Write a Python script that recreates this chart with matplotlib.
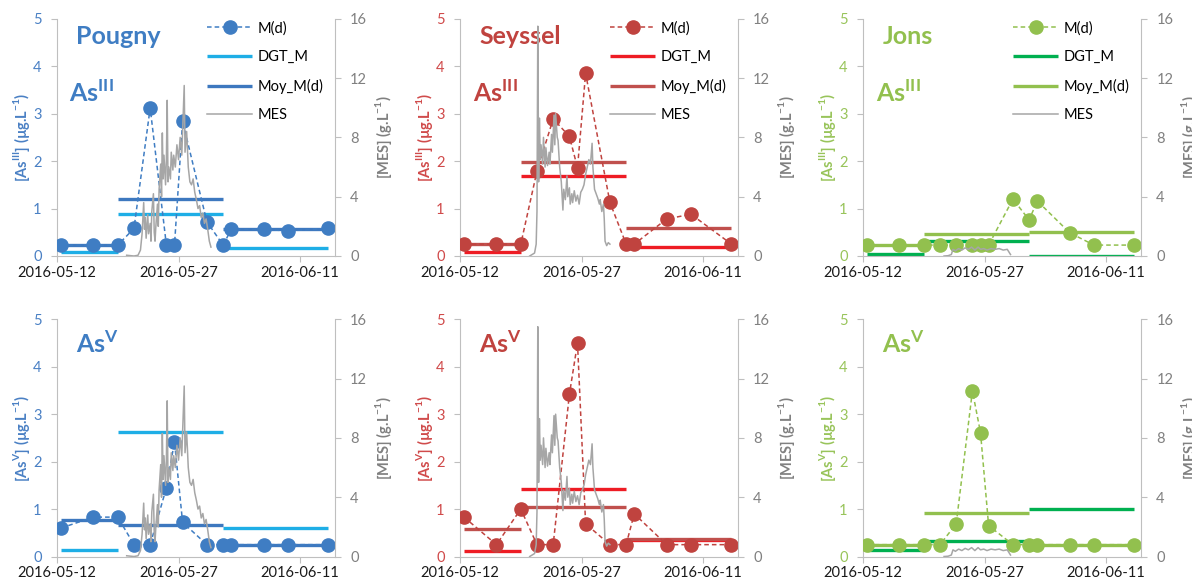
import pandas as pd
import matplotlib.pyplot as plt

plt.rcParams['font.family'] = ['Lato', 'DejaVu Sans']

start = pd.Timestamp('2016-05-12')

# sampling days (days after 2016-05-12) of the M(d) points
sample_days = [0.5, 4.5, 7.5, 9.5, 11.5, 13.5, 14.5, 15.5, 18.5, 20.5, 21.5, 25.5, 28.5, 33.5]
# the three DGT deployment periods
period_start = [0.5, 7.5, 20.5]
period_end = [7.5, 20.5, 33.5]

# Pougny
pougny_as3 = [0.23, 0.23, 0.23, 0.58, 3.12, 0.23, 0.23, 2.84, 0.72, 0.23, 0.56, 0.56, 0.53, 0.58]
pougny_as3_dgt = [0.09, 0.88, 0.16]
pougny_as3_moy = [0.23, 1.21, 0.56]
pougny_as5 = [0.60, 0.83, 0.83, 0.25, 0.25, 1.45, 2.42, 0.72, 0.25, 0.25, 0.25, 0.25, 0.25, 0.25]
pougny_as5_dgt = [0.13, 2.63, 0.60]
pougny_as5_moy = [0.76, 0.66, 0.25]
pougny_mes_days = [8.6, 9.5, 10.0, 10.3, 10.5, 10.7, 10.8, 10.9, 11.0, 11.2, 11.3, 11.5, 11.6, 11.7,
                   11.9, 12.0, 12.1, 12.2, 12.4, 12.5, 12.6, 12.8, 12.9, 13.0, 13.1, 13.2, 13.4, 13.5,
                   13.6, 13.7, 13.8, 14.0, 14.1, 14.3, 14.4, 14.6, 14.8, 15.0, 15.2, 15.4, 15.7, 15.8,
                   16.0, 16.2, 16.4, 16.6, 16.8, 17.0, 17.2, 17.4, 17.6, 17.8, 18.0, 18.2, 18.4, 18.6,
                   18.8, 19.0]
pougny_mes = [0.05, 0.0, 0.05, 0.4, 1.5, 3.6, 1.8, 2.6, 1.2, 2.8, 1.5, 2.2, 1.0, 3.0,
              4.2, 1.6, 1.0, 2.0, 3.5, 2.0, 4.5, 6.2, 4.0, 8.3, 5.2, 6.8, 4.8, 6.5,
              10.5, 5.0, 6.0, 5.2, 7.0, 5.8, 6.8, 6.0, 7.5, 6.5, 8.0, 6.8, 11.5, 7.0,
              8.4, 6.0, 5.0, 4.8, 5.2, 4.3, 3.8, 3.2, 3.4, 2.6, 2.9, 2.2, 2.5, 1.8,
              1.0, 0.6]

# Seyssel
seyssel_as3 = [0.25, 0.25, 0.25, 1.79, 2.89, 2.52, 1.86, 3.85, 1.13, 0.25, 0.25, 0.78, 0.88, 0.25]
seyssel_as3_dgt = [0.09, 1.69, 0.18]
seyssel_as3_moy = [0.25, 1.99, 0.58]
seyssel_as5 = [0.83, 0.25, 1.0, 0.25, 0.25, 3.42, 4.5, 0.69, 0.25, 0.25, 0.9, 0.25, 0.25, 0.25]
seyssel_as5_dgt = [0.12, 1.43, 0.35]
seyssel_as5_moy = [0.58, 1.05, 0.37]
seyssel_mes_days = [8.6, 9.2, 9.4, 9.5, 9.6, 9.7, 9.8, 9.9, 10.0, 10.2, 10.3, 10.5, 10.6, 10.8,
                    11.0, 11.1, 11.3, 11.4, 11.6, 11.7, 11.8, 12.0, 12.1, 12.3, 12.5, 12.7, 12.8,
                    13.0, 13.2, 13.3, 13.5, 13.6, 13.8, 13.9, 14.1, 14.3, 14.5, 14.7, 14.9, 15.1,
                    15.3, 15.5, 15.7, 15.9, 16.1, 16.3, 16.4, 16.6, 16.8, 17.0, 17.2, 17.3, 17.5,
                    17.7, 17.8, 17.9, 18.1, 18.3, 18.5]
seyssel_mes = [0.0, 0.2, 0.8, 3.0, 15.5, 5.0, 9.3, 6.5, 7.5, 6.2, 8.0, 6.0, 7.3, 6.1,
               7.0, 6.2, 8.2, 7.0, 9.5, 7.5, 9.6, 8.0, 7.8, 6.0, 5.0, 3.1, 4.5,
               3.8, 5.4, 4.0, 4.6, 3.5, 4.2, 3.6, 4.4, 3.7, 4.1, 3.5, 4.3, 4.5,
               4.8, 5.5, 6.0, 6.5, 6.2, 7.6, 6.0, 4.5, 4.2, 3.9, 3.5, 3.8, 3.0,
               3.5, 2.5, 1.0, 0.7, 0.9, 0.8]

# Jons
jons_as3 = [0.23, 0.23, 0.23, 0.23, 0.23, 0.23, 0.23, 0.23, 1.2, 0.76, 1.16, 0.49, 0.23, 0.23]
jons_as3_dgt = [0.04, 0.32, 0.01]
jons_as3_moy = [0.23, 0.46, 0.51]
jons_as5 = [0.25, 0.25, 0.25, 0.25, 0.69, 3.49, 2.61, 0.65, 0.25, 0.25, 0.25, 0.25, 0.25, 0.25]
jons_as5_dgt = [0.13, 0.33, 1.0]
jons_as5_moy = [0.25, 0.92, 0.25]
jons_mes_days = [10.0, 10.5, 10.9, 11.1, 11.4, 11.8, 12.2, 12.6, 13.0, 13.4, 13.8, 14.2, 14.5,
                 14.9, 15.3, 15.8, 16.3, 16.8, 17.3, 17.8, 18.2]
jons_mes = [0.0, 0.02, 0.1, 0.45, 0.35, 0.5, 0.4, 0.55, 0.45, 0.6, 0.4, 0.6, 0.45,
            0.5, 0.4, 0.5, 0.45, 0.5, 0.4, 0.45, 0.1]

sites = [
    ('Pougny', '#3F7DC3', '#1EAEE6', '#3D78BF', '#4A80C4',
     pougny_as3, pougny_as3_dgt, pougny_as3_moy, pougny_as5, pougny_as5_dgt, pougny_as5_moy,
     pougny_mes_days, pougny_mes),
    ('Seyssel', '#C0433F', '#EE1C24', '#C0504D', '#D04A4A',
     seyssel_as3, seyssel_as3_dgt, seyssel_as3_moy, seyssel_as5, seyssel_as5_dgt, seyssel_as5_moy,
     seyssel_mes_days, seyssel_mes),
    ('Jons', '#92C04E', '#00B050', '#92C04E', '#98C45A',
     jons_as3, jons_as3_dgt, jons_as3_moy, jons_as5, jons_as5_dgt, jons_as5_moy,
     jons_mes_days, jons_mes),
]

spine_col = '#BFBFBF'
mes_col = '#A6A6A6'
axis_gray = '#808080'


def to_dates(days):
    return start + pd.to_timedelta(days, unit='D')


fig = plt.figure(figsize=(11.92, 5.85), dpi=100)
lefts = [0.0478, 0.3859, 0.724]
bottoms = [0.5624, 0.0487]
w, h = 0.2332, 0.4055

for col, site in enumerate(sites):
    name, c_pt, c_dgt, c_moy, c_lab = site[:5]
    mes_d, mes_v = site[11], site[12]
    for row in range(2):
        if row == 0:
            vals, dgt, moy, sp = site[5], site[6], site[7], 'III'
        else:
            vals, dgt, moy, sp = site[8], site[9], site[10], 'V'
        ax = fig.add_axes([lefts[col], bottoms[row], w, h])
        ax2 = ax.twinx()

        for k in range(3):
            xs = to_dates([period_start[k], period_end[k]])
            l_dgt, = ax.plot(xs, [dgt[k], dgt[k]], color=c_dgt, lw=2.4, solid_capstyle='butt', zorder=2)
            l_moy, = ax.plot(xs, [moy[k], moy[k]], color=c_moy, lw=2.4, solid_capstyle='butt', zorder=3)
        l_pt, = ax.plot(to_dates(sample_days), vals, color=c_pt, lw=1.1, ls=(0, (3, 2)),
                        marker='o', ms=9.5, mec=c_pt, mfc=c_pt, zorder=4)
        l_mes, = ax2.plot(to_dates(mes_d), mes_v, color=mes_col, lw=1.1)

        ax.set_xlim(to_dates(0), to_dates(34.3))
        ax.set_ylim(0, 5)
        ax2.set_ylim(0, 16)
        ax.set_yticks([0, 1, 2, 3, 4, 5])
        ax2.set_yticks([0, 4, 8, 12, 16])
        ax.set_xticks(to_dates([0, 15, 30]))
        ax.set_xticklabels(['2016-05-12', '2016-05-27', '2016-06-11'])

        for a in (ax, ax2):
            a.spines['top'].set_visible(False)
            for s in ('left', 'right', 'bottom'):
                a.spines[s].set_color(spine_col)
        ax.spines['right'].set_visible(False)
        ax2.spines['left'].set_visible(False)
        ax2.spines['bottom'].set_visible(False)

        ax.tick_params(axis='y', colors=spine_col, labelcolor=c_lab, labelsize=10.5, length=4, pad=7)
        ax.tick_params(axis='x', colors=spine_col, labelcolor='#1a1a1a', labelsize=10.5, length=4, pad=3)
        ax2.tick_params(axis='y', colors=spine_col, labelcolor=axis_gray, labelsize=10.5, length=4, pad=7)

        ax.set_ylabel(r'[As$^{\mathregular{%s}}$] (µg.L$^{\mathregular{-1}}$)' % sp,
                      color=c_lab, fontsize=10.5, fontweight='bold')
        ax.yaxis.set_label_coords(-0.09, 0.5)
        ax2.set_ylabel(r'[MES] (g.L$^{\mathregular{-1}}$)', color=axis_gray, fontsize=10.5,
                       fontweight='bold')
        ax2.yaxis.set_label_coords(1.137, 0.5)

        if row == 0:
            ax.text(0.07, 0.925, name, transform=ax.transAxes, fontsize=18, fontweight='bold',
                    color=c_pt, va='center', ha='left')
            ax.text(0.045, 0.69, r'As$^{\mathregular{III}}$', transform=ax.transAxes, fontsize=18,
                    fontweight='bold', color=c_pt, va='center', ha='left')
            ax2.legend([l_pt, l_dgt, l_moy, l_mes], ['M(d)', 'DGT_M', 'Moy_M(d)', 'MES'],
                       loc='upper left', bbox_to_anchor=(0.54, 0.99), frameon=False, fontsize=10.5,
                       numpoints=1, handlelength=3.1, handletextpad=0.35, labelspacing=1.0,
                       borderpad=0, borderaxespad=0)
        else:
            ax.text(0.068, 0.896, r'As$^{\mathregular{V}}$', transform=ax.transAxes, fontsize=18,
                    fontweight='bold', color=c_pt, va='center', ha='left')

fig.savefig('out.png', dpi=100)
